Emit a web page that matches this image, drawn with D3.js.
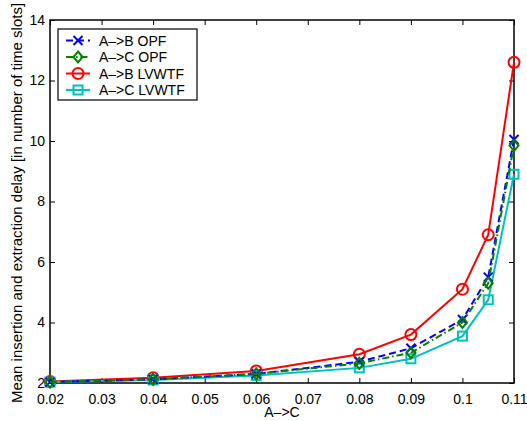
<!DOCTYPE html>
<html>
<head>
<meta charset="utf-8">
<script src="https://cdn.jsdelivr.net/npm/d3@7"></script>
<style>
body { margin: 0; background: #fff; }
text { font-family: "Liberation Sans", Arial, sans-serif; }
</style>
</head>
<body>
<div id="chart"></div>
<script>
// values
var xValues = [0.02, 0.04, 0.06, 0.08, 0.09, 0.1, 0.105, 0.11];
var abOpf   = [2.03, 2.12, 2.3, 2.7, 3.15, 4.1, 5.5, 10.05];
var acOpf   = [2.03, 2.12, 2.3, 2.65, 3.0, 4.0, 5.3, 9.85];
var abLvwtf = [2.05, 2.17, 2.4, 2.95, 3.6, 5.1, 6.9, 12.6];
var acLvwtf = [2.03, 2.1, 2.25, 2.5, 2.8, 3.55, 4.75, 8.9];
var seriesNames = ["A\u2013>B OPF", "A\u2013>C OPF", "A\u2013>B LVWTF", "A\u2013>C LVWTF"];
var xTicks = [0.02, 0.03, 0.04, 0.05, 0.06, 0.07, 0.08, 0.09, 0.1, 0.11];
var yTicks = [2, 4, 6, 8, 10, 12, 14];

var series = [
    {name: seriesNames[0], values: abOpf,   color: "#0000ff", dash: "7,4",       marker: "x"},
    {name: seriesNames[1], values: acOpf,   color: "#008000", dash: "7,3,1.5,3", marker: "diamond"},
    {name: seriesNames[2], values: abLvwtf, color: "#ff0000", dash: null,        marker: "circle"},
    {name: seriesNames[3], values: acLvwtf, color: "#00bfbf", dash: null,        marker: "square"}
];

var W = 527, H = 421;
var margin = {top: 20, right: 13, bottom: 38, left: 50};
var width = W - margin.left - margin.right,
    height = H - margin.top - margin.bottom;

var svg = d3.select("#chart").append("svg")
    .attr("width", W).attr("height", H);
var g = svg.append("g")
    .attr("transform", "translate(" + margin.left + "," + margin.top + ")");

var x = d3.scaleLinear().domain([0.02, 0.11]).range([0, width]);
var y = d3.scaleLinear().domain([2, 14]).range([height, 0]);

function fmt(d) { return String(+d.toFixed(3)); }

// axes, ticks inward as in matlab
var tickLen = 5;
g.append("g").attr("transform", "translate(0," + height + ")")
    .call(d3.axisBottom(x).tickValues(xTicks).tickFormat(fmt).tickSizeInner(-tickLen).tickSizeOuter(0).tickPadding(11));
g.append("g")
    .call(d3.axisTop(x).tickValues(xTicks).tickFormat("").tickSizeInner(-tickLen).tickSizeOuter(0));
g.append("g")
    .call(d3.axisLeft(y).tickValues(yTicks).tickFormat(fmt).tickSizeInner(-tickLen).tickSizeOuter(0).tickPadding(5));
g.append("g").attr("transform", "translate(" + width + ",0)")
    .call(d3.axisRight(y).tickValues(yTicks).tickFormat("").tickSizeInner(-tickLen).tickSizeOuter(0));

g.selectAll(".domain").remove();
g.selectAll(".tick line").attr("stroke", "#000");
g.selectAll(".tick text").attr("font-size", 14).attr("fill", "#000")
    .style("font-family", "'Liberation Sans', Arial, sans-serif");

g.append("rect")
    .attr("width", width).attr("height", height)
    .attr("fill", "none").attr("stroke", "#000").attr("stroke-width", 1.5);

// markers
function drawMarker(sel, type, color) {
    if (type === "x") {
        sel.append("path").attr("d", "M-4.5,-4.5L4.5,4.5M-4.5,4.5L4.5,-4.5")
            .attr("stroke", color).attr("stroke-width", 2).attr("fill", "none");
    } else if (type === "diamond") {
        sel.append("path").attr("d", "M0,-5.5L4.5,0L0,5.5L-4.5,0Z")
            .attr("stroke", color).attr("stroke-width", 2).attr("fill", "none");
    } else if (type === "circle") {
        sel.append("circle").attr("r", 5.5)
            .attr("stroke", color).attr("stroke-width", 2).attr("fill", "none");
    } else {
        sel.append("rect").attr("x", -4.5).attr("y", -4.5).attr("width", 9).attr("height", 9)
            .attr("stroke", color).attr("stroke-width", 2).attr("fill", "none");
    }
}

var line = d3.line()
    .x(function(d, i) { return x(xValues[i]); })
    .y(function(d) { return y(d); });

var drawOrder = [2, 3, 0, 1];
drawOrder.forEach(function(k) {
    var s = series[k];
    g.append("path")
        .datum(s.values)
        .attr("d", line)
        .attr("fill", "none")
        .attr("stroke", s.color)
        .attr("stroke-width", 2)
        .attr("stroke-dasharray", s.dash);
    g.append("g").selectAll("g")
        .data(s.values)
        .enter()
        .append("g")
            .attr("transform", function(d, i) {
                return "translate(" + x(xValues[i]) + "," + y(d) + ")";
            })
            .each(function() { drawMarker(d3.select(this), s.marker, s.color); });
});

// legend
var legend = g.append("g").attr("transform", "translate(8,9)");
legend.append("rect")
    .attr("width", 139).attr("height", 71)
    .attr("fill", "#fff").attr("stroke", "#000").attr("stroke-width", 1.2);
series.forEach(function(s, i) {
    var ly = 11.5 + i * 16.5;
    var row = legend.append("g").attr("transform", "translate(0," + ly + ")");
    row.append("line")
        .attr("x1", 8).attr("x2", 32).attr("y1", 0).attr("y2", 0)
        .attr("stroke", s.color).attr("stroke-width", 2)
        .attr("stroke-dasharray", s.dash);
    var m = row.append("g").attr("transform", "translate(20,0)");
    drawMarker(m, s.marker, s.color);
    row.append("text")
        .attr("x", 41).attr("y", 5)
        .attr("font-size", 14)
        .text(s.name);
});

// axis labels
svg.append("text")
    .attr("x", margin.left + width / 2)
    .attr("y", H - 4)
    .attr("text-anchor", "middle")
    .attr("font-size", 14)
    .text("A\u2013>C");

svg.append("text")
    .attr("transform", "translate(22," + 203 + ") rotate(-90)")
    .attr("text-anchor", "middle")
    .attr("font-size", 15)
    .text("Mean insertion and extraction delay [in number of time slots]");
</script>
</body>
</html>
